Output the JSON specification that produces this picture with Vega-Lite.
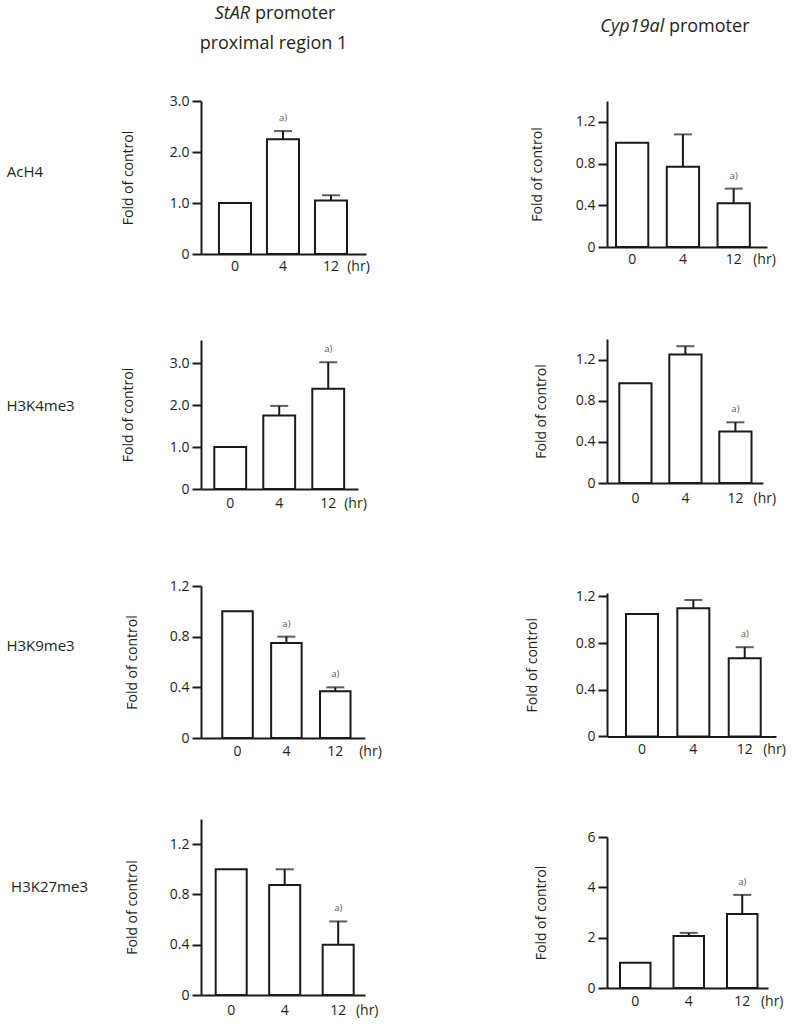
{
  "$schema": "https://vega.github.io/schema/vega-lite/v6.json",
  "padding": {"left": 4, "top": 0, "right": 0, "bottom": 0},
  "spacing": 38,
  "config": {
    "view": {"stroke": null},
    "font": "Open Sans",
    "axis": {"grid": false, "domainColor": "#1a1a1a", "domainWidth": 2, "tickColor": "#1a1a1a", "tickWidth": 2, "labelColor": "#231f20", "titleColor": "#231f20", "labelFont": "Open Sans", "titleFont": "Open Sans", "labelFontSize": 14, "titleFontSize": 14, "titleFontWeight": "normal"},
    "axisY": {"tickSize": 9, "labelPadding": 3},
    "axisX": {"ticks": false, "tickSize": 0, "labelAngle": 0, "titleAngle": 0, "titleAlign": "center", "titleBaseline": "top"},
    "title": {"font": "Open Sans", "fontWeight": "normal", "color": "#231f20"},
    "text": {"font": "Open Sans", "color": "#231f20"}
  },
  "vconcat": [
    {
      "width": 788, "height": 56,
      "layer": [
        {"data": {"values": [{"label": "StAR"}]}, "mark": {"type": "text", "fontStyle": "italic", "align": "right", "baseline": "middle", "fontSize": 18},
         "encoding": {"text": {"field": "label"}, "x": {"datum": 0.3124, "type": "quantitative", "scale": {"domain": [0, 1]}, "axis": null}, "y": {"datum": 0.25, "type": "quantitative", "scale": {"domain": [0, 1], "reverse": true}, "axis": null}}},
        {"data": {"values": [{"label": "promoter"}]}, "mark": {"type": "text", "align": "left", "baseline": "middle", "fontSize": 18},
         "encoding": {"text": {"field": "label"}, "x": {"datum": 0.3184, "type": "quantitative", "scale": {"domain": [0, 1]}}, "y": {"datum": 0.25, "type": "quantitative", "scale": {"domain": [0, 1], "reverse": true}}}},
        {"data": {"values": [{"label": "proximal region 1"}]}, "mark": {"type": "text", "align": "center", "baseline": "middle", "fontSize": 18},
         "encoding": {"text": {"field": "label"}, "x": {"datum": 0.342, "type": "quantitative", "scale": {"domain": [0, 1]}}, "y": {"datum": 0.786, "type": "quantitative", "scale": {"domain": [0, 1], "reverse": true}}}},
        {"data": {"values": [{"label": "Cyp19al"}]}, "mark": {"type": "text", "fontStyle": "italic", "align": "right", "baseline": "middle", "fontSize": 18},
         "encoding": {"text": {"field": "label"}, "x": {"datum": 0.8378, "type": "quantitative", "scale": {"domain": [0, 1]}}, "y": {"datum": 0.48, "type": "quantitative", "scale": {"domain": [0, 1], "reverse": true}}}},
        {"data": {"values": [{"label": "promoter"}]}, "mark": {"type": "text", "align": "left", "baseline": "middle", "fontSize": 18},
         "encoding": {"text": {"field": "label"}, "x": {"datum": 0.8438, "type": "quantitative", "scale": {"domain": [0, 1]}}, "y": {"datum": 0.48, "type": "quantitative", "scale": {"domain": [0, 1], "reverse": true}}}}
      ]
    },
    {
      "spacing": 27,
      "hconcat": [
        {
          "spacing": 100,
          "vconcat": [
            {"width": 90, "height": 141.4, "data": {"values": [{"label": "AcH4"}]},
             "mark": {"type": "text", "fontSize": 15, "align": "center", "baseline": "middle"},
             "encoding": {"text": {"field": "label"}, "x": {"datum": 0.233, "type": "quantitative", "scale": {"domain": [0, 1]}, "axis": null}, "y": {"datum": 0.5, "type": "quantitative", "scale": {"domain": [0, 1]}, "axis": null}}},
            {"width": 90, "height": 40, "title": {"text": " ", "fontSize": 1, "offset": 41.6}, "data": {"values": [{"label": "H3K4me3"}]},
             "mark": {"type": "text", "fontSize": 15, "align": "center", "baseline": "middle"},
             "encoding": {"text": {"field": "label"}, "x": {"datum": 0.406, "type": "quantitative", "scale": {"domain": [0, 1]}, "axis": null}, "y": {"datum": 0.5, "type": "quantitative", "scale": {"domain": [0, 1]}, "axis": null}}},
            {"width": 90, "height": 40, "title": {"text": " ", "fontSize": 1, "offset": 99}, "data": {"values": [{"label": "H3K9me3"}]},
             "mark": {"type": "text", "fontSize": 15, "align": "center", "baseline": "middle"},
             "encoding": {"text": {"field": "label"}, "x": {"datum": 0.406, "type": "quantitative", "scale": {"domain": [0, 1]}, "axis": null}, "y": {"datum": 0.5, "type": "quantitative", "scale": {"domain": [0, 1]}, "axis": null}}},
            {"width": 90, "height": 40, "title": {"text": " ", "fontSize": 1, "offset": 100}, "data": {"values": [{"label": "H3K27me3"}]},
             "mark": {"type": "text", "fontSize": 15, "align": "center", "baseline": "middle"},
             "encoding": {"text": {"field": "label"}, "x": {"datum": 0.506, "type": "quantitative", "scale": {"domain": [0, 1]}, "axis": null}, "y": {"datum": 0.5, "type": "quantitative", "scale": {"domain": [0, 1]}, "axis": null}}}
          ]
        },
        {
          "spacing": 143,
          "hconcat": [
            {
              "spacing": 58,
              "vconcat": [
                {
                  "width": 165, "height": 153,
                  "data": {"values": [
                    {"time": "0", "mean": 1.0, "upper": null, "sig": ""},
                    {"time": "4", "mean": 2.25, "upper": 2.41, "sig": "a)"},
                    {"time": "12", "mean": 1.05, "upper": 1.15, "sig": ""}
                  ]},
                  "encoding": {"x": {"field": "time", "type": "nominal", "sort": ["0", "4", "12"], "scale": {"type": "band", "paddingInner": 0.333, "paddingOuter": 0.385, "align": 0.486}, "axis": {"title": "(hr)", "titleX": 157, "labelPadding": 5.7, "titleY": 5.7}}},
                  "layer": [
                    {"mark": {"type": "bar", "fill": "white", "stroke": "#1a1a1a", "strokeWidth": 2},
                     "encoding": {"y": {"field": "mean", "type": "quantitative", "scale": {"domain": [0, 3], "nice": false}, "axis": {"title": "Fold of control", "values": [0, 1, 2, 3], "labelExpr": "datum.value == 0 ? '0' : format(datum.value, '.1f')", "titlePadding": 34}}}},
                    {"transform": [{"filter": "datum.upper != null"}], "mark": {"type": "rule", "strokeWidth": 2, "color": "#1a1a1a"},
                     "encoding": {"y": {"field": "mean", "type": "quantitative", "scale": {"domain": [0, 3], "nice": false}}, "y2": {"field": "upper"}}},
                    {"transform": [{"filter": "datum.upper != null"}], "mark": {"type": "tick", "size": 18, "thickness": 2, "color": "#1a1a1a"},
                     "encoding": {"y": {"field": "upper", "type": "quantitative", "scale": {"domain": [0, 3], "nice": false}}}},
                    {"transform": [{"filter": "datum.sig != ''"}], "mark": {"type": "text", "fontSize": 9.5, "color": "#555555", "baseline": "middle", "dy": -13},
                     "encoding": {"y": {"field": "upper", "type": "quantitative", "scale": {"domain": [0, 3], "nice": false}}, "text": {"field": "sig"}}}
                  ]
                },
                {
                  "width": 157, "height": 149,
                  "title": {"text": " ", "fontSize": 1, "offset": 6.3},
                  "data": {"values": [
                    {"time": "0", "mean": 1.0, "upper": null, "sig": ""},
                    {"time": "4", "mean": 1.75, "upper": 1.98, "sig": ""},
                    {"time": "12", "mean": 2.39, "upper": 3.02, "sig": "a)"}
                  ]},
                  "encoding": {"x": {"field": "time", "type": "nominal", "sort": ["0", "4", "12"], "scale": {"type": "band", "paddingInner": 0.35, "paddingOuter": 0.277, "align": 0.49}, "axis": {"title": "(hr)", "titleX": 154, "labelPadding": 7.7, "titleY": 7.7}}},
                  "layer": [
                    {"mark": {"type": "bar", "fill": "white", "stroke": "#1a1a1a", "strokeWidth": 2},
                     "encoding": {"y": {"field": "mean", "type": "quantitative", "scale": {"domain": [0, 3.55], "nice": false}, "axis": {"title": "Fold of control", "values": [0, 1, 2, 3], "labelExpr": "datum.value == 0 ? '0' : format(datum.value, '.1f')", "titlePadding": 33.5}}}},
                    {"transform": [{"filter": "datum.upper != null"}], "mark": {"type": "rule", "strokeWidth": 2, "color": "#1a1a1a"},
                     "encoding": {"y": {"field": "mean", "type": "quantitative", "scale": {"domain": [0, 3.55], "nice": false}}, "y2": {"field": "upper"}}},
                    {"transform": [{"filter": "datum.upper != null"}], "mark": {"type": "tick", "size": 18, "thickness": 2, "color": "#1a1a1a"},
                     "encoding": {"y": {"field": "upper", "type": "quantitative", "scale": {"domain": [0, 3.55], "nice": false}}}},
                    {"transform": [{"filter": "datum.sig != ''"}], "mark": {"type": "text", "fontSize": 9.5, "color": "#555555", "baseline": "middle", "dy": -13},
                     "encoding": {"y": {"field": "upper", "type": "quantitative", "scale": {"domain": [0, 3.55], "nice": false}}, "text": {"field": "sig"}}}
                  ]
                },
                {
                  "width": 164, "height": 152,
                  "title": {"text": " ", "fontSize": 1, "offset": 8.5},
                  "data": {"values": [
                    {"time": "0", "mean": 1.0, "upper": null, "sig": ""},
                    {"time": "4", "mean": 0.75, "upper": 0.8, "sig": "a)"},
                    {"time": "12", "mean": 0.37, "upper": 0.4, "sig": "a)"}
                  ]},
                  "encoding": {"x": {"field": "time", "type": "nominal", "sort": ["0", "4", "12"], "scale": {"type": "band", "paddingInner": 0.376, "paddingOuter": 0.366, "align": 0.595}, "axis": {"title": "(hr)", "titleX": 169, "labelPadding": 6.3, "titleY": 6.3}}},
                  "layer": [
                    {"mark": {"type": "bar", "fill": "white", "stroke": "#1a1a1a", "strokeWidth": 2},
                     "encoding": {"y": {"field": "mean", "type": "quantitative", "scale": {"domain": [0, 1.2], "nice": false}, "axis": {"title": "Fold of control", "values": [0, 0.4, 0.8, 1.2], "labelExpr": "datum.value == 0 ? '0' : format(datum.value, '.1f')", "titlePadding": 29.5}}}},
                    {"transform": [{"filter": "datum.upper != null"}], "mark": {"type": "rule", "strokeWidth": 2, "color": "#1a1a1a"},
                     "encoding": {"y": {"field": "mean", "type": "quantitative", "scale": {"domain": [0, 1.2], "nice": false}}, "y2": {"field": "upper"}}},
                    {"transform": [{"filter": "datum.upper != null"}], "mark": {"type": "tick", "size": 18, "thickness": 2, "color": "#1a1a1a"},
                     "encoding": {"y": {"field": "upper", "type": "quantitative", "scale": {"domain": [0, 1.2], "nice": false}}}},
                    {"transform": [{"filter": "datum.sig != ''"}], "mark": {"type": "text", "fontSize": 9.5, "color": "#555555", "baseline": "middle", "dy": -13},
                     "encoding": {"y": {"field": "upper", "type": "quantitative", "scale": {"domain": [0, 1.2], "nice": false}}, "text": {"field": "sig"}}}
                  ]
                },
                {
                  "width": 164, "height": 176,
                  "title": {"text": " ", "fontSize": 1, "offset": 0.5},
                  "data": {"values": [
                    {"time": "0", "mean": 1.0, "upper": null, "sig": ""},
                    {"time": "4", "mean": 0.875, "upper": 1.0, "sig": ""},
                    {"time": "12", "mean": 0.4, "upper": 0.585, "sig": "a)"}
                  ]},
                  "encoding": {"x": {"field": "time", "type": "nominal", "sort": ["0", "4", "12"], "scale": {"type": "band", "paddingInner": 0.42, "paddingOuter": 0.243, "align": 0.565}, "axis": {"title": "(hr)", "titleX": 165.7, "labelPadding": 8.7, "titleY": 8.7}}},
                  "layer": [
                    {"mark": {"type": "bar", "fill": "white", "stroke": "#1a1a1a", "strokeWidth": 2},
                     "encoding": {"y": {"field": "mean", "type": "quantitative", "scale": {"domain": [0, 1.4], "nice": false}, "axis": {"title": "Fold of control", "values": [0, 0.4, 0.8, 1.2], "labelExpr": "datum.value == 0 ? '0' : format(datum.value, '.1f')", "titlePadding": 29.5}}}},
                    {"transform": [{"filter": "datum.upper != null"}], "mark": {"type": "rule", "strokeWidth": 2, "color": "#1a1a1a"},
                     "encoding": {"y": {"field": "mean", "type": "quantitative", "scale": {"domain": [0, 1.4], "nice": false}}, "y2": {"field": "upper"}}},
                    {"transform": [{"filter": "datum.upper != null"}], "mark": {"type": "tick", "size": 18, "thickness": 2, "color": "#1a1a1a"},
                     "encoding": {"y": {"field": "upper", "type": "quantitative", "scale": {"domain": [0, 1.4], "nice": false}}}},
                    {"transform": [{"filter": "datum.sig != ''"}], "mark": {"type": "text", "fontSize": 9.5, "color": "#555555", "baseline": "middle", "dy": -13},
                     "encoding": {"y": {"field": "upper", "type": "quantitative", "scale": {"domain": [0, 1.4], "nice": false}}, "text": {"field": "sig"}}}
                  ]
                }
              ]
            },
            {
              "spacing": 60,
              "vconcat": [
                {
                  "width": 160, "height": 146,
                  "data": {"values": [
                    {"time": "0", "mean": 1.0, "upper": null, "sig": ""},
                    {"time": "4", "mean": 0.77, "upper": 1.08, "sig": ""},
                    {"time": "12", "mean": 0.42, "upper": 0.56, "sig": "a)"}
                  ]},
                  "encoding": {"x": {"field": "time", "type": "nominal", "sort": ["0", "4", "12"], "scale": {"type": "band", "paddingInner": 0.364, "paddingOuter": 0.258, "align": 0.344}, "axis": {"title": "(hr)", "titleX": 157, "labelPadding": 5, "titleY": 5}}},
                  "layer": [
                    {"mark": {"type": "bar", "fill": "white", "stroke": "#1a1a1a", "strokeWidth": 2},
                     "encoding": {"y": {"field": "mean", "type": "quantitative", "scale": {"domain": [0, 1.4], "nice": false}, "axis": {"title": "Fold of control", "values": [0, 0.4, 0.8, 1.2], "labelExpr": "datum.value == 0 ? '0' : format(datum.value, '.1f')", "titlePadding": 31}}}},
                    {"transform": [{"filter": "datum.upper != null"}], "mark": {"type": "rule", "strokeWidth": 2, "color": "#1a1a1a"},
                     "encoding": {"y": {"field": "mean", "type": "quantitative", "scale": {"domain": [0, 1.4], "nice": false}}, "y2": {"field": "upper"}}},
                    {"transform": [{"filter": "datum.upper != null"}], "mark": {"type": "tick", "size": 18, "thickness": 2, "color": "#1a1a1a"},
                     "encoding": {"y": {"field": "upper", "type": "quantitative", "scale": {"domain": [0, 1.4], "nice": false}}}},
                    {"transform": [{"filter": "datum.sig != ''"}], "mark": {"type": "text", "fontSize": 9.5, "color": "#555555", "baseline": "middle", "dy": -13},
                     "encoding": {"y": {"field": "upper", "type": "quantitative", "scale": {"domain": [0, 1.4], "nice": false}}, "text": {"field": "sig"}}}
                  ]
                },
                {
                  "width": 156, "height": 144,
                  "title": {"text": " ", "fontSize": 1, "offset": 12},
                  "data": {"values": [
                    {"time": "0", "mean": 0.97, "upper": null, "sig": ""},
                    {"time": "4", "mean": 1.25, "upper": 1.33, "sig": ""},
                    {"time": "12", "mean": 0.5, "upper": 0.59, "sig": "a)"}
                  ]},
                  "encoding": {"x": {"field": "time", "type": "nominal", "sort": ["0", "4", "12"], "scale": {"type": "band", "paddingInner": 0.356, "paddingOuter": 0.238, "align": 0.517}, "axis": {"title": "(hr)", "titleX": 157.3, "labelPadding": 8.3, "titleY": 8.3}}},
                  "layer": [
                    {"mark": {"type": "bar", "fill": "white", "stroke": "#1a1a1a", "strokeWidth": 2},
                     "encoding": {"y": {"field": "mean", "type": "quantitative", "scale": {"domain": [0, 1.4], "nice": false}, "axis": {"title": "Fold of control", "values": [0, 0.4, 0.8, 1.2], "labelExpr": "datum.value == 0 ? '0' : format(datum.value, '.1f')", "titlePadding": 27}}}},
                    {"transform": [{"filter": "datum.upper != null"}], "mark": {"type": "rule", "strokeWidth": 2, "color": "#1a1a1a"},
                     "encoding": {"y": {"field": "mean", "type": "quantitative", "scale": {"domain": [0, 1.4], "nice": false}}, "y2": {"field": "upper"}}},
                    {"transform": [{"filter": "datum.upper != null"}], "mark": {"type": "tick", "size": 18, "thickness": 2, "color": "#1a1a1a"},
                     "encoding": {"y": {"field": "upper", "type": "quantitative", "scale": {"domain": [0, 1.4], "nice": false}}}},
                    {"transform": [{"filter": "datum.sig != ''"}], "mark": {"type": "text", "fontSize": 9.5, "color": "#555555", "baseline": "middle", "dy": -13},
                     "encoding": {"y": {"field": "upper", "type": "quantitative", "scale": {"domain": [0, 1.4], "nice": false}}, "text": {"field": "sig"}}}
                  ]
                },
                {
                  "width": 169, "height": 143.4,
                  "title": {"text": " ", "fontSize": 1, "offset": 21.7},
                  "data": {"values": [
                    {"time": "0", "mean": 1.05, "upper": null, "sig": ""},
                    {"time": "4", "mean": 1.1, "upper": 1.17, "sig": ""},
                    {"time": "12", "mean": 0.67, "upper": 0.765, "sig": "a)"}
                  ]},
                  "encoding": {"x": {"field": "time", "type": "nominal", "sort": ["0", "4", "12"], "scale": {"type": "band", "paddingInner": 0.377, "paddingOuter": 0.334, "align": 0.554}, "axis": {"title": "(hr)", "titleX": 167, "labelPadding": 6.3, "titleY": 6.3}}},
                  "layer": [
                    {"mark": {"type": "bar", "fill": "white", "stroke": "#1a1a1a", "strokeWidth": 2},
                     "encoding": {"y": {"field": "mean", "type": "quantitative", "scale": {"domain": [0, 1.23], "nice": false}, "axis": {"title": "Fold of control", "values": [0, 0.4, 0.8, 1.2], "labelExpr": "datum.value == 0 ? '0' : format(datum.value, '.1f')", "titlePadding": 35.5}}}},
                    {"transform": [{"filter": "datum.upper != null"}], "mark": {"type": "rule", "strokeWidth": 2, "color": "#1a1a1a"},
                     "encoding": {"y": {"field": "mean", "type": "quantitative", "scale": {"domain": [0, 1.23], "nice": false}}, "y2": {"field": "upper"}}},
                    {"transform": [{"filter": "datum.upper != null"}], "mark": {"type": "tick", "size": 18, "thickness": 2, "color": "#1a1a1a"},
                     "encoding": {"y": {"field": "upper", "type": "quantitative", "scale": {"domain": [0, 1.23], "nice": false}}}},
                    {"transform": [{"filter": "datum.sig != ''"}], "mark": {"type": "text", "fontSize": 9.5, "color": "#555555", "baseline": "middle", "dy": -13},
                     "encoding": {"y": {"field": "upper", "type": "quantitative", "scale": {"domain": [0, 1.23], "nice": false}}, "text": {"field": "sig"}}}
                  ]
                },
                {
                  "width": 161, "height": 151,
                  "title": {"text": " ", "fontSize": 1, "offset": 11.3},
                  "data": {"values": [
                    {"time": "0", "mean": 1.0, "upper": null, "sig": ""},
                    {"time": "4", "mean": 2.07, "upper": 2.19, "sig": ""},
                    {"time": "12", "mean": 2.94, "upper": 3.7, "sig": "a)"}
                  ]},
                  "encoding": {"x": {"field": "time", "type": "nominal", "sort": ["0", "4", "12"], "scale": {"type": "band", "paddingInner": 0.43, "paddingOuter": 0.22, "align": 0.553}, "axis": {"title": "(hr)", "titleX": 164.7, "labelPadding": 6.4, "titleY": 6.4}}},
                  "layer": [
                    {"mark": {"type": "bar", "fill": "white", "stroke": "#1a1a1a", "strokeWidth": 2},
                     "encoding": {"y": {"field": "mean", "type": "quantitative", "scale": {"domain": [0, 6], "nice": false}, "axis": {"title": "Fold of control", "values": [0, 2, 4, 6], "format": "d", "titlePadding": 38.3}}}},
                    {"transform": [{"filter": "datum.upper != null"}], "mark": {"type": "rule", "strokeWidth": 2, "color": "#1a1a1a"},
                     "encoding": {"y": {"field": "mean", "type": "quantitative", "scale": {"domain": [0, 6], "nice": false}}, "y2": {"field": "upper"}}},
                    {"transform": [{"filter": "datum.upper != null"}], "mark": {"type": "tick", "size": 18, "thickness": 2, "color": "#1a1a1a"},
                     "encoding": {"y": {"field": "upper", "type": "quantitative", "scale": {"domain": [0, 6], "nice": false}}}},
                    {"transform": [{"filter": "datum.sig != ''"}], "mark": {"type": "text", "fontSize": 9.5, "color": "#555555", "baseline": "middle", "dy": -13},
                     "encoding": {"y": {"field": "upper", "type": "quantitative", "scale": {"domain": [0, 6], "nice": false}}, "text": {"field": "sig"}}}
                  ]
                }
              ]
            }
          ]
        }
      ]
    }
  ]
}
